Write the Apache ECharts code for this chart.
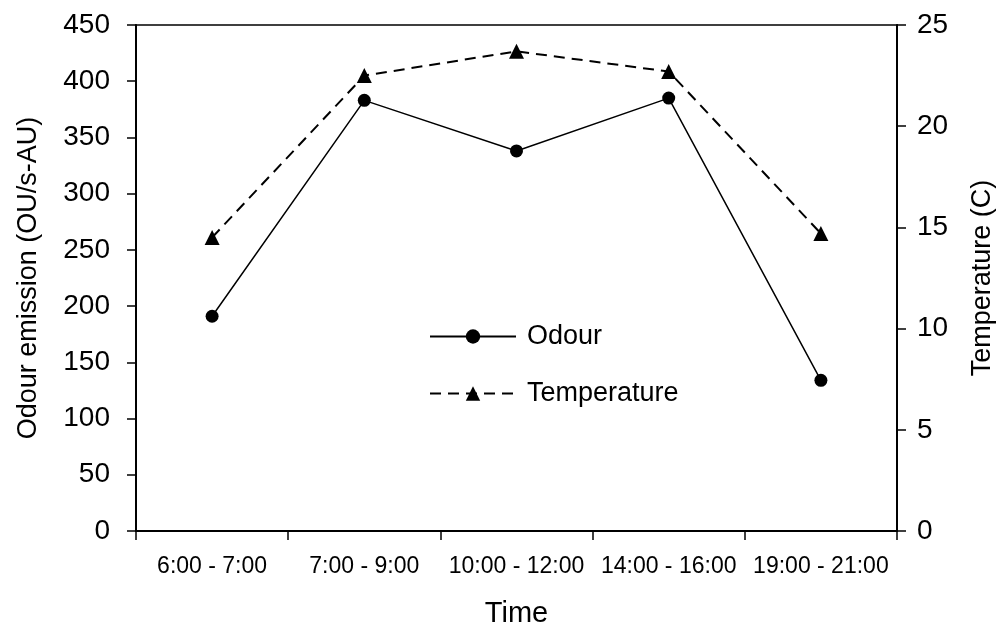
<!DOCTYPE html>
<html>
<head>
<meta charset="utf-8">
<script src="https://cdn.jsdelivr.net/npm/echarts@6/dist/echarts.min.js"></script>
<style>
  html, body { margin: 0; padding: 0; background: #fff; }
  #chart { width: 1006px; height: 628px; }
</style>
</head>
<body>
<div id="chart"></div>
<script>
// Sampling periods over the day
const categories = ['6:00 - 7:00', '7:00 - 9:00', '10:00 - 12:00', '14:00 - 16:00', '19:00 - 21:00'];
// Odour emission rate (OU/s-AU)
const odour = [191, 383, 338, 385, 134];
// Air temperature (C)
const temperature = [14.5, 22.5, 23.7, 22.7, 14.7];

const FONT = '"Liberation Sans", Arial, sans-serif';
const chart = echarts.init(document.getElementById('chart'));

chart.setOption({
  animation: false,
  backgroundColor: '#fff',
  grid: {
    left: 136, right: 109, top: 25, bottom: 97,
    outerBoundsMode: 'none',
    containLabel: false,
    show: true, borderColor: '#000', borderWidth: 1.5
  },
  legend: {
    orient: 'vertical',
    left: 429, top: 323,
    padding: 0,
    itemWidth: 86, itemHeight: 18, itemGap: 30,
    textStyle: { fontFamily: FONT, fontSize: 27, color: '#000', padding: [0, 0, 0, 6] },
    data: ['Odour', 'Temperature']
  },
  xAxis: {
    type: 'category',
    data: categories,
    boundaryGap: true,
    name: 'Time',
    nameLocation: 'middle',
    nameGap: 68,
    nameTextStyle: { fontFamily: FONT, fontSize: 29, color: '#000' },
    axisLine: { lineStyle: { color: '#000', width: 2 } },
    axisTick: { show: true, inside: false, length: 9, lineStyle: { color: '#000', width: 1.5 } },
    axisLabel: { fontFamily: FONT, fontSize: 23, color: '#000', margin: 24, interval: 0 },
    splitLine: { show: false }
  },
  yAxis: [
    {
      type: 'value',
      min: 0, max: 450, interval: 50,
      position: 'left',
      name: 'Odour emission (OU/s-AU)',
      nameLocation: 'middle',
      nameGap: 94,
      nameTextStyle: { fontFamily: FONT, fontSize: 27, color: '#000' },
      axisLine: { show: true, lineStyle: { color: '#000', width: 2 } },
      axisTick: { show: true, inside: false, length: 9, lineStyle: { color: '#000', width: 1.5 } },
      axisLabel: { fontFamily: FONT, fontSize: 28, color: '#000', margin: 26 },
      splitLine: { show: false }
    },
    {
      type: 'value',
      min: 0, max: 25, interval: 5,
      position: 'right',
      name: 'Temperature (C)',
      nameLocation: 'middle',
      nameGap: 72,
      nameRotate: 90,
      nameTextStyle: { fontFamily: FONT, fontSize: 27, color: '#000' },
      axisLine: { show: true, lineStyle: { color: '#000', width: 2 } },
      axisTick: { show: true, inside: false, length: 9, lineStyle: { color: '#000', width: 1.5 } },
      axisLabel: { fontFamily: FONT, fontSize: 28, color: '#000', margin: 20 },
      splitLine: { show: false }
    }
  ],
  series: [
    {
      name: 'Odour',
      type: 'line',
      yAxisIndex: 0,
      data: odour,
      symbol: 'circle',
      symbolSize: 13,
      itemStyle: { color: '#000' },
      lineStyle: { color: '#000', width: 1.5, type: 'solid' }
    },
    {
      name: 'Temperature',
      type: 'line',
      yAxisIndex: 1,
      data: temperature,
      symbol: 'triangle',
      symbolSize: 15,
      itemStyle: { color: '#000' },
      lineStyle: { color: '#000', width: 2, type: [11, 7] }
    }
  ]
});
</script>
</body>
</html>
